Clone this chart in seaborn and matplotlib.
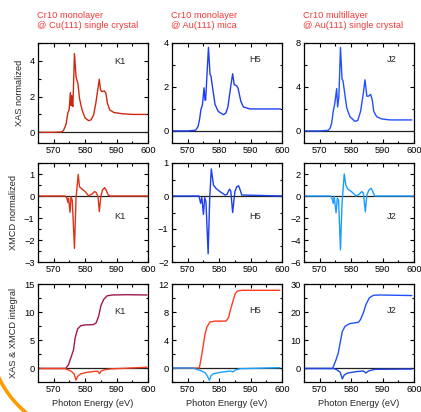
import numpy as np
import pandas as pd
import matplotlib
matplotlib.use("Agg")
import matplotlib.pyplot as plt
import seaborn as sns
from matplotlib.patches import Arc
from matplotlib.ticker import MultipleLocator

# ---------------- data ----------------
titles = ["Cr10 monolayer\n@ Cu(111) single crystal",
          "Cr10 monolayer\n@ Au(111) mica",
          "Cr10 multillayer\n@ Au(111) single crystal"]
sample_labels = ["K1", "H5", "J2"]
row_labels = ["XAS normalized", "XMCD normalized", "XAS & XMCD integral"]

# K1 XAS
k1_xas_x = [565, 570, 572.5, 573.1, 573.9, 574.5, 574.9, 575.3, 575.5, 575.7, 575.9, 576.1, 576.6, 577.1,
            577.5, 577.7, 578.2, 579.0, 580.0, 581.1, 581.9, 582.7, 583.4, 584.0, 584.5, 584.9, 585.3,
            586.1, 586.6, 587.1, 587.8, 589.1, 591.7, 595, 599.5]
k1_xas_y = [0, 0, 0.02, 0.1, 0.43, 1.08, 1.26, 2.22, 1.5, 2.05, 1.6, 1.45, 4.41, 3.11,
            2.83, 2.75, 1.9, 1.26, 0.8, 0.65, 0.7, 0.98, 1.63, 2.37, 2.97, 2.37, 2.28,
            2.32, 2.19, 1.63, 1.26, 1.11, 1.04, 1.0, 1.0]
# H5 XAS
h5_xas_x = [565, 570, 572.5, 573.3, 573.8, 574.2, 574.7, 575.2, 575.5, 575.7, 576.6, 577.1, 577.4,
            578.0, 578.7, 579.7, 581.3, 582.1, 582.8, 583.7, 584.3, 584.8, 585.5, 586.0, 586.9,
            587.7, 589.8, 595, 599.5]
h5_xas_y = [0, 0, 0.03, 0.2, 0.55, 0.97, 1.2, 1.96, 1.4, 1.4, 3.8, 2.57, 2.5,
            1.88, 1.2, 0.89, 0.74, 0.8, 1.1, 2.04, 2.6, 2.1, 2.06, 1.95, 1.35,
            1.09, 1.0, 1.0, 1.0]
# J2 XAS
j2_xas_x = [565, 570, 572.7, 573.3, 573.8, 574.3, 574.8, 575.4, 575.7, 576.1, 576.6, 577.1, 577.4,
            578.0, 578.6, 579.6, 581.2, 582.1, 583.0, 583.9, 584.4, 585.0, 585.5, 586.2, 586.7,
            587.2, 588.1, 589.7, 592.3, 599.3]
j2_xas_y = [0, 0, 0.05, 0.25, 0.69, 1.77, 2.5, 3.85, 2.18, 3.1, 7.6, 4.72, 4.57,
            3.33, 2.09, 1.3, 0.87, 0.95, 1.78, 3.48, 4.65, 3.16, 3.16, 3.32, 2.85,
            1.77, 1.3, 1.09, 1.0, 1.0]

# K1 XMCD
k1_xmcd_x = [565, 573.6, 574.2, 574.5, 574.7, 575.2, 575.5, 575.9, 576.6, 577.1, 577.8, 578.2, 579.0,
             580.0, 581.1, 582.1, 583.0, 583.5, 584.1, 584.5, 585.0, 585.5, 586.2, 586.7, 587.3, 588.0, 600]
k1_xmcd_y = [0, 0, -0.1, -0.29, -0.1, -0.74, -0.03, -0.2, -2.38, -0.1, 0.98, 0.42, 0.32,
             0.2, 0.01, 0.08, 0.2, 0.16, -0.03, -0.71, -0.03, 0.27, 0.38, 0.27, 0.05, 0, 0]
# H5 XMCD
h5_xmcd_x = [565, 573.6, 574.1, 574.5, 575.0, 575.4, 575.8, 576.5, 577.0, 577.5, 578.2, 579.0, 580.3,
             581.9, 582.5, 583.3, 583.7, 584.3, 585.0, 585.6, 586.2, 586.7, 587.2, 600]
h5_xmcd_y = [0, 0, -0.22, -0.05, -0.56, -0.05, -0.17, -1.75, -0.07, 0.82, 0.33, 0.23, 0.13,
             0.03, 0.05, 0.21, 0.15, -0.5, 0.13, 0.28, 0.31, 0.18, 0.03, 0]
# J2 XMCD
j2_xmcd_x = [565, 573.5, 573.9, 574.3, 574.6, 575.2, 575.6, 576.0, 576.6, 577.1, 577.8, 578.3, 579.0,
             580.1, 581.6, 582.6, 583.4, 583.9, 584.5, 585.0, 585.7, 586.4, 586.9, 587.5, 600]
j2_xmcd_y = [0, 0, -0.2, -0.67, -0.06, -1.53, -0.2, -0.37, -4.9, -0.67, 2.0, 1.0, 0.6,
             0.4, 0, 0.18, 0.4, 0.25, -1.44, 0.1, 0.55, 0.7, 0.4, 0, 0]

# K1 integrals
k1_ixas_x = [565, 573.8, 574.7, 575.5, 576.3, 576.8, 577.6, 578.6, 580.0, 582.7, 583.5, 584.3, 585.0,
             585.9, 587.0, 588.6, 593.2, 599.7]
k1_ixas_y = [0, 0, 0.66, 1.97, 3.3, 5.4, 7.0, 7.6, 7.73, 7.8, 8.1, 9.3, 11.1,
             12.27, 12.9, 13.05, 13.1, 13.05]
k1_ixmcd_x = [565, 573.5, 574.6, 575.6, 576.5, 577.1, 577.6, 578.6, 580.5, 583.2, 584.0, 584.6, 585.0,
              585.9, 588.0, 599.7]
k1_ixmcd_y = [0, 0, -0.24, -0.5, -1.0, -2.07, -1.4, -0.95, -0.7, -0.5, -0.5, -0.89, -0.5,
              -0.26, -0.08, 0.22]
# H5 integrals
h5_ixas_x = [565, 573.7, 574.5, 575.0, 575.5, 576.1, 577.1, 578.7, 582.2, 583.0, 583.5, 584.4, 585.1,
             585.8, 587.3, 599.3]
h5_ixas_y = [0, 0, 1.96, 3.4, 4.8, 5.86, 6.57, 6.7, 6.7, 7.2, 8.14, 9.57, 10.6,
             11.0, 11.1, 11.1]
h5_ixmcd_x = [565, 571.8, 572.8, 573.9, 575.5, 576.2, 576.9, 577.4, 578.3, 580.4, 583.6, 584.4, 585.1,
              586.7, 599.3]
h5_ixmcd_y = [0, 0, -0.2, -0.33, -0.67, -1.1, -1.76, -1.1, -0.8, -0.62, -0.43, -0.57, -0.29,
              -0.1, 0.05]
# J2 integrals
j2_ixas_x = [565, 574.1, 575.2, 575.9, 576.5, 577.2, 578.1, 579.6, 582.3, 583.0, 583.9, 584.7, 585.8,
             587.1, 589.2, 599.3]
j2_ixas_y = [0, 0, 3.1, 5.5, 9.1, 13.2, 15.0, 15.96, 16.4, 17.4, 19.8, 22.7, 25.1,
             26.0, 26.1, 25.9]
j2_ixmcd_x = [565, 574.5, 575.4, 576.5, 577.2, 577.8, 578.9, 581.8, 583.9, 584.7, 585.5, 587.6, 599.3]
j2_ixmcd_y = [0, 0, -0.46, -1.3, -3.7, -2.3, -1.6, -1.1, -0.9, -1.6, -0.9, -0.3, -0.2]

x_ticks = [570, 580, 590, 600]

# ---------------- styling ----------------
sns.set_style("ticks")
plt.rcParams['font.family'] = ['Liberation Sans', 'DejaVu Sans']
plt.rcParams['font.size'] = 6.7

fig = plt.figure(figsize=(4.21, 4.12), dpi=100)
W, H = 421.0, 412.0

col_left = [38, 172, 304]
col_w = 110
row_top = [43, 163, 284]
row_bot = [143, 262, 382]

ylims = [[(-0.6, 5.0), (-0.55, 4.0), (-1.1, 8.0)],
         [(-3.0, 1.5), (-2.0, 1.0), (-6.0, 3.0)],
         [(-2.4, 15.0), (-2.0, 12.0), (-4.8, 30.0)]]
yticks = [[[0, 2, 4], [0, 2, 4], [0, 4, 8]],
          [[-3, -2, -1, 0, 1], [-2, -1, 0, 1], [-6, -4, -2, 0, 2]],
          [[0, 5, 10, 15], [0, 4, 8, 12], [0, 10, 20, 30]]]
yminor = [[1, 1, 2], [0.5, 0.5, 1], [2.5, 2, 5]]

curves = [
    [[(k1_xas_x, k1_xas_y, "#cc2a10")],
     [(h5_xas_x, h5_xas_y, "#1f3df5")],
     [(j2_xas_x, j2_xas_y, "#2050ff")]],
    [[(k1_xmcd_x, k1_xmcd_y, "#dd3318")],
     [(h5_xmcd_x, h5_xmcd_y, "#1a3ef0")],
     [(j2_xmcd_x, j2_xmcd_y, "#1a9cff")]],
    [[(k1_ixas_x, k1_ixas_y, "#a0184e"), (k1_ixmcd_x, k1_ixmcd_y, "#f0401e")],
     [(h5_ixas_x, h5_ixas_y, "#ff3a1e"), (h5_ixmcd_x, h5_ixmcd_y, "#1aa0ff")],
     [(j2_ixas_x, j2_ixas_y, "#2050ff"), (j2_ixmcd_x, j2_ixmcd_y, "#2246e0")]],
]
label_pos = [[(0.745, 0.81), (0.755, 0.83), (0.80, 0.83)],
             [(0.745, 0.46), (0.755, 0.46), (0.80, 0.46)],
             [(0.745, 0.72), (0.755, 0.73), (0.80, 0.73)]]

for r in range(3):
    for c in range(3):
        ax = fig.add_axes([col_left[c] / W, (H - row_bot[r]) / H,
                           col_w / W, (row_bot[r] - row_top[r]) / H])
        ax.axhline(0, color="#222222", lw=0.9, zorder=1)
        for (xs, ys, col) in curves[r][c]:
            df = pd.DataFrame({"E": xs, "v": ys})
            sns.lineplot(data=df, x="E", y="v", ax=ax, color=col, lw=1.0,
                         estimator=None, sort=False, zorder=2)
        ax.set_xlim(565, 600)
        ax.set_ylim(*ylims[r][c])
        ax.set_xticks(x_ticks)
        ax.xaxis.set_minor_locator(MultipleLocator(5))
        ax.set_yticks(yticks[r][c])
        ax.yaxis.set_minor_locator(MultipleLocator(yminor[r][c]))
        ax.set_yticklabels([("\u2212%d" % -t) if t < 0 else str(t) for t in yticks[r][c]])
        ax.tick_params(which="both", direction="in", top=True, right=True,
                       labelsize=6.7, width=0.8, pad=2.5, colors="black")
        ax.tick_params(which="major", length=3.0)
        ax.tick_params(which="minor", length=1.8)
        for sp in ax.spines.values():
            sp.set_linewidth(0.9)
            sp.set_color("black")
        ax.set_xlabel("")
        ax.set_ylabel("")
        if c == 0:
            ax.set_ylabel(row_labels[r], fontsize=6.7, labelpad=4)
        if r == 2:
            ax.set_xlabel("Photon Energy (eV)", fontsize=6.7, labelpad=3)
        lx, ly = label_pos[r][c]
        ax.text(lx, ly, sample_labels[c], transform=ax.transAxes,
                ha="center", va="center", fontsize=6.7)
        if r == 0:
            ax.text(-0.005, 1.13, titles[c], transform=ax.transAxes, ha="left",
                    va="bottom", color="#f03a3a", fontsize=6.7, linespacing=1.2)

# decorative orange arc in the lower-left corner
arc = Arc((91.3 / W, 78.3 / H), 2 * 102.4 / W, 2 * 102.4 / H,
          theta1=190, theta2=250, transform=fig.transFigure,
          color="#ff9a00", lw=2.6)
fig.add_artist(arc)

fig.savefig("out.png", dpi=100)
